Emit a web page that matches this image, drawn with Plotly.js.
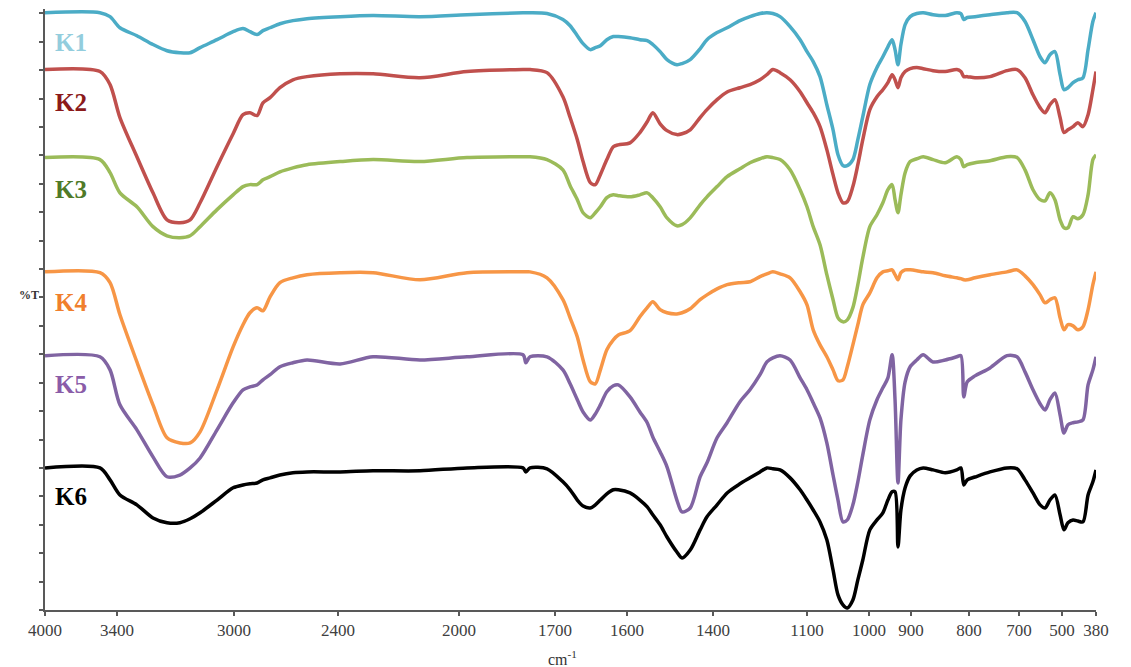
<!DOCTYPE html>
<html>
<head>
<meta charset="utf-8">
<script src="https://cdn.plot.ly/plotly-3.0.1.min.js"></script>
<style>html,body{margin:0;padding:0;background:#fff;}#chart{width:1131px;height:667px;}</style>
</head>
<body>
<div id="chart"></div>
<script>
// ---------- DATA ----------
const seriesNames = ['K1', 'K2', 'K3', 'K4', 'K5', 'K6'];

// wavenumber (cm-1) sampling points, shared by all spectra
const wavenumbers = [4000,3542,3458,3390,3332,3277,3229,3185,3150,3116,
  3058,3003,2948,2908,2867,2833,2792,2735,2660,2579,
  2393,2284,2129,1975,1800,1791,1778,1725,1689,1679,
  1669,1661,1651,1644,1637,1628,1619,1612,1593,1570,
  1553,1540,1523,1507,1484,1472,1453,1430,1414,1387,
  1355,1314,1282,1250,1228,1209,1186,1154,1122,1100,
  1090,1079,1068,1058,1050,1042,1035,1026,1018,1010,
  998,981,967,955,945,938,931,924,914,902,
  890,879,862,841,821,814,809,803,788,758,
  724,704,672,635,602,579,556,533,509,493,
  479,461,444,426,408,391,380];

// %T (offset, axis units) for each sample
const k1 = [21.02,21.02,20.88,20.49,20.21,19.90,19.68,19.61,19.61,19.79,
  20.07,20.35,20.46,20.35,20.25,20.39,20.49,20.63,20.74,20.81,
  20.88,20.92,20.88,20.95,21.02,21.02,21.02,20.99,20.78,20.56,
  20.21,19.93,19.72,19.79,19.86,20.07,20.18,20.18,20.14,20.07,
  20.04,19.90,19.65,19.37,19.19,19.23,19.37,19.75,20.07,20.32,
  20.49,20.74,20.88,20.99,21.02,20.99,20.88,20.53,20.07,19.65,
  19.30,18.77,17.78,16.90,16.02,15.64,15.64,15.85,16.55,17.36,
  18.49,19.09,19.47,19.82,20.07,19.72,19.19,19.90,20.60,20.88,
  20.99,21.02,20.95,20.92,21.02,20.99,20.78,20.85,20.88,20.95,
  21.02,21.02,20.71,20.07,19.47,19.26,19.54,19.65,18.84,18.31,
  18.38,18.56,18.66,18.73,19.72,20.71,21.02];

const k2 = [19.02,18.95,18.49,17.33,15.95,14.68,13.73,13.63,13.73,14.33,
  15.60,16.76,17.43,17.50,17.40,17.85,18.03,18.38,18.66,18.77,
  18.87,18.87,18.73,18.95,19.02,19.02,19.02,18.91,18.06,17.33,
  16.55,15.78,15.04,14.97,15.32,15.85,16.30,16.37,16.44,16.80,
  17.18,17.50,17.11,16.87,16.73,16.76,16.90,17.33,17.61,17.96,
  18.23,18.38,18.49,18.66,18.84,19.02,18.91,18.66,18.24,17.85,
  17.50,17.01,16.20,15.32,14.68,14.33,14.37,14.90,15.67,16.55,
  17.61,18.06,18.31,18.56,18.84,18.66,18.38,18.73,18.95,19.05,
  19.09,19.05,18.98,18.95,19.02,18.95,18.77,18.77,18.73,18.77,
  18.98,19.02,18.73,18.13,17.68,17.50,17.78,17.96,17.33,16.80,
  16.90,17.01,17.15,17.01,17.43,18.31,18.95];

const k3 = [15.92,15.85,15.39,14.68,14.19,13.49,13.17,13.10,13.17,13.49,
  14.09,14.61,14.90,14.97,14.97,15.14,15.25,15.42,15.56,15.67,
  15.78,15.85,15.78,15.92,15.95,15.95,15.95,15.85,15.49,14.93,
  14.44,13.98,13.80,13.98,14.19,14.51,14.61,14.58,14.54,14.61,
  14.68,14.51,14.19,13.80,13.52,13.56,13.80,14.26,14.54,14.90,
  15.25,15.53,15.74,15.88,15.95,15.92,15.85,15.49,14.79,14.19,
  13.49,12.85,11.80,10.92,10.28,10.14,10.21,10.64,11.45,12.40,
  13.49,13.91,14.33,14.79,14.97,14.44,13.98,14.61,15.39,15.78,
  15.88,15.95,15.85,15.74,15.95,15.85,15.60,15.67,15.74,15.81,
  15.95,15.92,15.49,14.79,14.44,14.40,14.68,14.44,13.73,13.45,
  13.45,13.84,13.77,13.91,14.61,15.85,16.02];

const k4 = [11.90,11.87,11.52,10.39,8.73,7.22,6.06,5.88,5.88,6.27,
  7.75,9.26,10.04,10.46,10.64,10.53,11.02,11.52,11.69,11.80,
  11.87,11.87,11.62,11.87,11.90,11.90,11.90,11.69,10.92,10.28,
  9.61,8.80,8.03,7.96,8.45,9.16,9.51,9.68,9.83,10.32,
  10.64,10.85,10.57,10.46,10.42,10.46,10.60,10.92,11.09,11.30,
  11.45,11.52,11.55,11.73,11.83,11.90,11.83,11.69,11.20,10.74,
  9.86,9.33,8.91,8.45,8.07,8.10,8.56,9.33,10.04,10.74,
  11.16,11.69,11.90,11.94,11.97,11.80,11.62,11.87,11.97,11.97,
  11.94,11.90,11.87,11.76,11.69,11.66,11.62,11.62,11.69,11.80,
  11.90,11.97,11.76,11.45,11.09,10.81,10.92,10.99,10.28,9.86,
  10.04,10.00,9.86,9.97,10.57,11.45,11.90];

const k5 = [8.95,8.91,8.45,7.22,6.34,5.39,4.69,4.75,5.00,5.35,
  6.34,7.29,7.75,7.85,7.92,8.10,8.28,8.56,8.70,8.80,
  8.66,8.91,8.80,8.91,8.98,8.70,8.91,8.91,8.45,7.96,
  7.40,6.97,6.69,6.90,7.22,7.68,7.89,7.92,7.50,6.97,
  6.59,6.09,5.57,5.04,3.87,3.45,3.59,4.69,5.18,6.06,
  6.59,7.33,7.75,8.28,8.73,8.87,8.95,8.80,8.17,7.75,
  7.29,6.76,5.88,4.75,3.87,3.10,3.17,3.70,4.51,5.46,
  6.69,7.40,7.82,8.17,8.98,7.40,4.47,6.69,8.03,8.56,
  8.80,8.98,8.73,8.80,8.91,8.95,7.50,8.03,8.24,8.52,
  8.95,8.91,8.38,7.75,7.26,7.04,7.40,7.64,6.87,6.23,
  6.52,6.59,6.62,6.69,7.92,8.45,8.91];

const k6 = [5.00,5.00,4.58,4.05,3.70,3.24,3.07,3.07,3.21,3.42,
  3.87,4.30,4.40,4.44,4.47,4.58,4.65,4.75,4.83,4.86,
  4.86,4.90,4.90,5.00,5.00,4.86,5.00,4.97,4.51,4.23,
  3.87,3.66,3.59,3.70,3.87,4.09,4.23,4.23,4.12,3.87,
  3.63,3.35,3.00,2.57,2.04,1.83,2.11,2.82,3.28,3.70,
  4.12,4.44,4.65,4.86,5.00,4.97,4.93,4.65,4.23,3.87,
  3.52,3.10,2.47,1.41,0.53,0.18,0.07,0.35,1.06,1.76,
  2.82,3.17,3.42,3.87,4.16,4.16,2.22,3.52,4.30,4.72,
  4.93,5.00,4.93,4.83,4.93,5.00,4.40,4.58,4.68,4.86,
  5.00,4.97,4.58,4.12,3.70,3.59,3.87,4.05,3.35,2.82,
  3.07,3.17,3.13,3.10,4.05,4.51,4.93];

// x-axis tick labels (cm-1)
const xTickWavenumbers = [4000,3400,3000,2400,2000,1700,1600,1400,1100,1000,900,800,700,500,380];
const xTickLabels = ['4000','3400','3000','2400','2000','1700','1600','1400','1100','1000','900','800','700','500','380'];

// ---------- LAYOUT / STYLE ----------
// the original axis is piecewise linear: where each labelled tick sits along the axis
const xTickOffsets = [0,72,189,293,414,510,582,668,762,824,866,924,974,1017,1051];
const lineColors = ['#4bacc6','#c0504d','#9bbb59','#f79646','#8064a2','#000000'];
const labelColors = ['#93cddd','#8b1a1a','#4f7a28','#f07f2d','#8a5ca8','#000000'];
const labelY = [19.97,17.85,14.79,10.81,7.92,3.98];

function wnToAxis(wn) {
  for (let i = 0; i < xTickWavenumbers.length - 1; i++) {
    const a = xTickWavenumbers[i], b = xTickWavenumbers[i + 1];
    if (wn <= a && wn >= b) {
      return xTickOffsets[i] + (a - wn) / (a - b) * (xTickOffsets[i + 1] - xTickOffsets[i]);
    }
  }
  return wn > xTickWavenumbers[0] ? xTickOffsets[0] : xTickOffsets[xTickOffsets.length - 1];
}

const allSeries = [k1, k2, k3, k4, k5, k6];
const xAxisVals = wavenumbers.map(wnToAxis);
const serif = 'Liberation Serif, Times New Roman, serif';

const traces = allSeries.map((ys, i) => ({
  type: 'scatter',
  mode: 'lines',
  name: seriesNames[i],
  x: xAxisVals,
  y: ys,
  customdata: wavenumbers,
  line: { color: lineColors[i], width: 3.5, shape: 'spline', smoothing: 0.8 },
  hovertemplate: '%{customdata} cm-1<extra>' + seriesNames[i] + '</extra>'
}));

const annotations = seriesNames.map((n, i) => ({
  text: '<b>' + n + '</b>',
  xref: 'x', yref: 'y',
  x: 8, y: labelY[i],
  xanchor: 'left', yanchor: 'middle',
  showarrow: false,
  font: { family: serif, size: 25, color: labelColors[i] }
}));
annotations.push({
  text: '<b>%T</b>', xref: 'paper', yref: 'y', x: -0.004, y: 11.1,
  xanchor: 'right', yanchor: 'middle', showarrow: false,
  font: { family: serif, size: 12, color: '#333333' }
});
annotations.push({
  text: 'cm<sup>-1</sup>', xref: 'x', yref: 'paper', x: 517, y: -0.08,
  xanchor: 'center', yanchor: 'middle', showarrow: false,
  font: { family: serif, size: 16, color: '#333333' }
});

const layout = {
  width: 1131, height: 667,
  margin: { l: 45, r: 35, t: 9, b: 57 },
  paper_bgcolor: '#ffffff', plot_bgcolor: '#ffffff',
  showlegend: false,
  font: { family: serif },
  xaxis: {
    range: [0, 1051],
    tickmode: 'array', tickvals: xTickOffsets, ticktext: xTickLabels,
    ticks: 'outside', ticklen: 4, tickwidth: 2, tickcolor: '#595959',
    tickfont: { family: serif, size: 17, color: '#404040' },
    showline: true, linecolor: '#595959', linewidth: 2,
    showgrid: false, zeroline: false, fixedrange: true
  },
  yaxis: {
    range: [0, 21.15],
    tickmode: 'linear', tick0: 0, dtick: 1,
    ticks: 'outside', ticklen: 4, tickwidth: 2, tickcolor: '#595959',
    showticklabels: false,
    showline: true, linecolor: '#595959', linewidth: 2,
    showgrid: false, zeroline: false, fixedrange: true
  },
  annotations: annotations
};

Plotly.newPlot('chart', traces, layout, { displayModeBar: false, staticPlot: true });
</script>
</body>
</html>
